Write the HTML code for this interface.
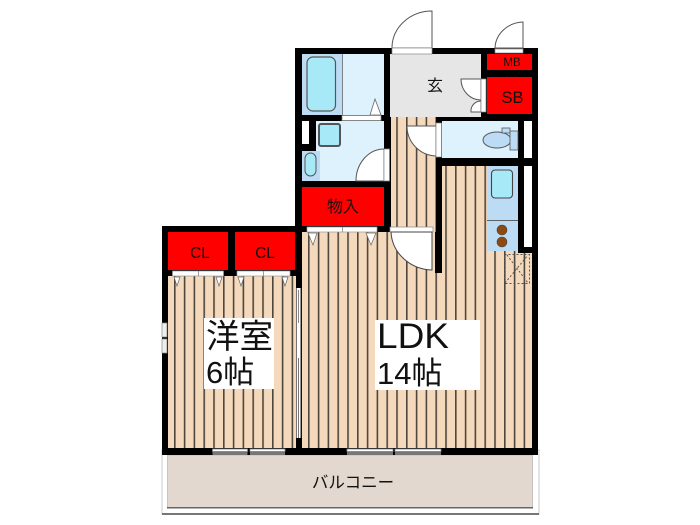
<!DOCTYPE html>
<html><head><meta charset="utf-8"><style>
html,body{margin:0;padding:0;background:#fff}
svg{display:block}
text{font-family:"Liberation Sans","Noto Sans CJK JP",sans-serif;fill:#111}
</style></head><body>
<svg width="700" height="525" viewBox="0 0 700 525" xmlns="http://www.w3.org/2000/svg">
<defs>
<pattern id="a" x="174" y="0" width="9.8" height="20" patternUnits="userSpaceOnUse"><rect width="9.8" height="20" fill="#f5d9bc"/><rect x="0" width="1.6" height="20" fill="#4f463e"/></pattern>
<pattern id="b" x="308" y="0" width="9.8" height="20" patternUnits="userSpaceOnUse"><rect width="9.8" height="20" fill="#f5d9bc"/><rect x="0" width="1.6" height="20" fill="#4f463e"/></pattern>
</defs>

<!-- balcony -->
<rect x="162" y="450" width="377" height="64" fill="#fff" stroke="#c8c8c8" stroke-width="1"/>
<rect x="162" y="513" width="377" height="2" fill="#777"/>
<rect x="167.500" y="455" width="365" height="52.500" fill="#e2d8cf" stroke="#bbb" stroke-width=".8"/>
<rect x="167" y="507" width="366" height="1.500" fill="#666"/>

<!-- walls base -->
<rect x="295" y="48" width="243" height="184" fill="#000"/>
<rect x="162" y="226" width="376" height="229" fill="#000"/>

<!-- floors -->
<rect x="168" y="276" width="128" height="172" fill="url(#a)"/>
<rect x="302" y="232" width="230" height="216" fill="url(#b)"/>
<rect x="442" y="166" width="90" height="80" fill="url(#b)"/>
<rect x="391" y="117" width="45" height="115" fill="url(#b)"/>

<!-- interior wall -->
<rect x="435" y="232" width="7" height="41" fill="#000"/>

<!-- white label boxes -->
<rect x="204" y="318" width="70" height="71" fill="#fff"/>
<rect x="375" y="320" width="105" height="70" fill="#fff"/>

<!-- entry -->
<rect x="390" y="54" width="91" height="63" fill="#e6e6e6"/>
<path d="M392 48V47A40 37 0 0 1 432 11V48Z" fill="#fff" stroke="#555" stroke-width="1"/>
<rect x="392" y="48" width="40" height="6" fill="#fff" stroke="#888" stroke-width=".7"/>
<path d="M495 48A29 27 0 0 1 523 22V48Z" fill="#fff" stroke="#555" stroke-width="1"/>
<rect x="495" y="49" width="28" height="4" fill="#fff" stroke="#888" stroke-width=".7"/>
<path d="M461 79H481V100A20 21 0 0 1 461 79Z" fill="#fff" stroke="#555" stroke-width="1"/>
<path d="M471 112A10 10 0 0 1 481 101V112Z" fill="#fff" stroke="#555" stroke-width="1"/>
<rect x="481" y="79" width="5" height="33" fill="#fff" stroke="#888" stroke-width=".7"/>

<!-- red rooms -->
<rect x="487" y="54" width="45" height="16" fill="#f00"/>
<rect x="487" y="77" width="45" height="37" fill="#f00"/>
<rect x="302" y="187" width="82" height="39" fill="#f00"/>
<rect x="168" y="232" width="60" height="38" fill="#f00"/>
<rect x="235" y="232" width="60" height="38" fill="#f00"/>

<!-- bath -->
<rect x="302" y="54" width="40" height="61" fill="#bcdcf5"/>
<rect x="342" y="54" width="42" height="61" fill="#def2fd"/>
<rect x="342" y="54" width=".8" height="61" fill="#666"/>
<rect x="307" y="57" width="28.500" height="54" rx="6" fill="#a8e9f7" stroke="#555" stroke-width="1.200"/>
<path d="M375 99L370 115H381Z" fill="#fff" stroke="#666" stroke-width=".8"/>
<rect x="342" y="115.500" width="39" height="5" fill="#fff" stroke="#888" stroke-width=".7"/>

<!-- wash -->
<rect x="316" y="121" width="68" height="60" fill="#def2fd"/>
<rect x="302" y="121" width="7" height="23" fill="#fff"/>
<rect x="302" y="151" width="18" height="30" fill="#bcdcf5"/>
<rect x="305" y="153" width="11" height="23" rx="5.500" fill="#a8e9f7" stroke="#555" stroke-width="1"/>
<rect x="319" y="124" width="21" height="22" rx="2" fill="#a8e9f7" stroke="#555" stroke-width="2"/>
<path d="M356 181A28 32 0 0 1 384 149V181Z" fill="#fff" stroke="#555" stroke-width="1"/>
<rect x="384" y="149" width="5.500" height="32" fill="#fff" stroke="#888" stroke-width=".7"/>

<!-- toilet -->
<rect x="442" y="121" width="76" height="37" fill="#def2fd"/>
<rect x="524" y="121" width="8" height="37" fill="#fff"/>
<ellipse cx="497" cy="140" rx="14" ry="8" fill="#bcdcf5" stroke="#555" stroke-width="1"/>
<rect x="510" y="131" width="8" height="19" fill="#bcdcf5" stroke="#555" stroke-width=".8"/>
<rect x="502" y="128" width="8" height="5" fill="#bcdcf5" stroke="#555" stroke-width=".8"/>
<path d="M407 126H436V156A30 30 0 0 1 407 126Z" fill="#fff" stroke="#555" stroke-width="1"/>
<rect x="436" y="123" width="5.500" height="34" fill="#fff" stroke="#888" stroke-width=".7"/>

<!-- kitchen -->
<rect x="487" y="166" width="31" height="85" fill="#bcdcf5"/>
<rect x="487" y="220" width="31" height=".9" fill="#555"/>
<rect x="491.500" y="170" width="21" height="28" rx="3.500" fill="#a8e9f7" stroke="#444" stroke-width="1.100"/>
<circle cx="502" cy="230" r="5" fill="#8c4a12" stroke="#444" stroke-width=".6"/>
<circle cx="502" cy="242" r="5" fill="#8c4a12" stroke="#444" stroke-width=".6"/>
<rect x="518" y="166" width="14" height="84" fill="#000"/>
<rect x="524" y="166" width="8" height="81" fill="#fff"/>
<rect x="518" y="248" width="14" height="5" fill="#000"/>
<rect x="504.500" y="254.500" width="25" height="29" fill="none" stroke="#555" stroke-width="1" stroke-dasharray="2 2"/>
<path d="M505 283L528 255M507 255L528 283" fill="none" stroke="#555" stroke-width="1" stroke-dasharray="2 2"/>

<!-- LDK door -->
<rect x="390" y="227" width="43" height="5" fill="#fff" stroke="#888" stroke-width=".7"/>
<path d="M391 232H432V270A42 40 0 0 1 391 232Z" fill="#fff" stroke="#444" stroke-width="1"/>

<!-- closet doors -->
<rect x="172.500" y="271" width="51" height="5" fill="#fff" stroke="#999" stroke-width=".7"/>
<rect x="198" y="271" width=".8" height="5" fill="#888"/>
<rect x="237" y="271" width="53" height="5" fill="#fff" stroke="#999" stroke-width=".7"/>
<rect x="263" y="271" width=".8" height="5" fill="#888"/>
<rect x="307" y="227" width="70" height="5" fill="#fff" stroke="#999" stroke-width=".7"/>
<rect x="342" y="227" width=".8" height="5" fill="#888"/>
<g fill="#fff" stroke="#666" stroke-width=".7">
<path d="M174 277H180L177 286Z"/><path d="M216 277H222L219 286Z"/>
<path d="M238 277H244L241 286Z"/><path d="M282 277H288L285 286Z"/>
<path d="M308 233H317L313 245Z"/><path d="M366 233H376L371 245Z"/>
</g>

<!-- sliding door -->
<rect x="296" y="288" width="5" height="150" fill="#fff"/>
<rect x="296" y="288" width=".9" height="150" fill="#666"/>
<rect x="300.300" y="288" width=".9" height="150" fill="#666"/>
<rect x="298" y="290" width="1" height="33" fill="#888"/>
<rect x="298" y="358" width="1" height="80" fill="#777"/>

<!-- left window -->
<rect x="162" y="323" width="5" height="14" fill="#eee" stroke="#888" stroke-width=".7"/>
<rect x="162" y="339" width="5" height="14" fill="#eee" stroke="#888" stroke-width=".7"/>

<!-- balcony windows -->
<g fill="#fff" stroke="#888" stroke-width=".8">
<rect x="212.500" y="449" width="35" height="2.500"/><rect x="250" y="449" width="35" height="2.500"/>
<rect x="347" y="449" width="46" height="2.500"/><rect x="395" y="449" width="46" height="2.500"/>
</g>
<g fill="#777">
<rect x="212.500" y="451.500" width="35" height="3.500"/><rect x="250" y="451.500" width="35" height="3.500"/>
<rect x="347" y="451.500" width="46" height="3.500"/><rect x="395" y="451.500" width="46" height="3.500"/>
</g>

<!-- labels -->
<text x="206" y="348" font-size="33.500">洋室</text>
<text x="206" y="383" font-size="31">6帖</text>
<text x="377" y="348" font-size="35" textLength="72" lengthAdjust="spacingAndGlyphs">LDK</text>
<text x="377" y="384" font-size="31">14帖</text>
<text x="353" y="488" font-size="16.500" text-anchor="middle">バルコニー</text>
<text x="435" y="91" font-size="16" text-anchor="middle">玄</text>
<text x="512.500" y="103" font-size="16.500" text-anchor="middle">SB</text>
<text x="512" y="66" font-size="11.500" text-anchor="middle">MB</text>
<text x="343" y="212" font-size="16" text-anchor="middle">物入</text>
<text x="200" y="258" font-size="15.500" text-anchor="middle">CL</text>
<text x="265" y="258" font-size="15.500" text-anchor="middle">CL</text>
</svg>
</body></html>
